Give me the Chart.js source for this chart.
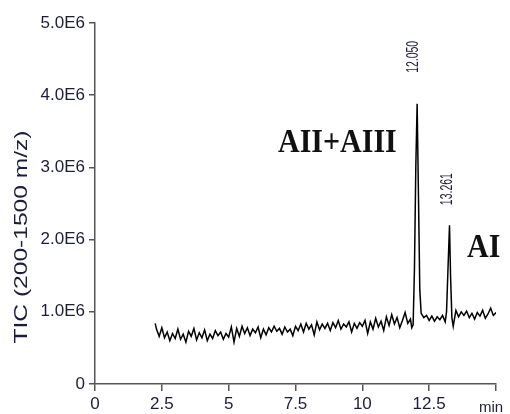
<!DOCTYPE html>
<html>
<head>
<meta charset="utf-8">
<script src="https://cdn.jsdelivr.net/npm/chart.js@4"></script>
<style>
  body{ margin:0; background:#fff; }
  #wrap{ width:510px; height:414px; }
</style>
</head>
<body>
<div id="wrap"><canvas id="graficoTIC" width="510" height="414"></canvas></div>
<script>
// ===================================
// DATOS (señal TIC en unidades de 1E6)
// ===================================
const tiempos = [
  2.25,2.3,2.4,2.5,2.6,2.7,2.8,2.9,3.0,3.1,3.2,3.3,3.4,3.5,3.6,3.7,3.8,3.9,
  4.0,4.1,4.2,4.3,4.4,4.5,4.6,4.7,4.8,4.9,5.0,5.1,5.2,5.3,5.4,5.5,5.6,5.7,5.8,5.9,
  6.0,6.1,6.2,6.3,6.4,6.5,6.6,6.7,6.8,6.9,7.0,7.1,7.2,7.3,7.4,7.5,7.6,7.7,7.8,7.9,
  8.0,8.1,8.2,8.3,8.4,8.5,8.6,8.7,8.8,8.9,9.0,9.1,9.2,9.3,9.4,9.5,9.6,9.7,9.8,9.9,
  10.0,10.1,10.2,10.3,10.4,10.5,10.6,10.7,10.8,10.9,11.0,11.1,11.2,11.3,11.4,11.5,11.6,11.7,11.8,
  11.85,11.9,11.95,12.0,12.05,12.1,12.15,12.2,12.3,12.4,12.5,12.6,12.7,12.8,12.9,13.0,13.1,
  13.15,13.2,13.261,13.3,13.35,13.4,13.5,13.6,13.7,13.8,13.9,14.0,14.1,14.2,14.3,14.4,14.5,
  14.6,14.7,14.8,14.9,15.0
];
const senal = [
  0.84,0.76,0.66,0.78,0.64,0.72,0.60,0.70,0.63,0.76,0.62,0.69,0.58,0.73,0.66,0.77,0.61,0.71,
  0.64,0.75,0.60,0.69,0.63,0.74,0.67,0.72,0.62,0.70,0.65,0.79,0.58,0.77,0.66,0.80,0.70,0.78,0.67,0.76,
  0.71,0.79,0.64,0.76,0.68,0.78,0.72,0.80,0.73,0.77,0.69,0.79,0.72,0.76,0.67,0.80,0.74,0.83,0.72,0.84,
  0.76,0.82,0.68,0.86,0.75,0.83,0.77,0.84,0.74,0.85,0.78,0.88,0.76,0.83,0.79,0.86,0.72,0.84,0.77,0.85,
  0.80,0.88,0.70,0.86,0.76,0.91,0.79,0.87,0.74,0.93,0.81,0.96,0.83,0.92,0.78,0.88,0.99,0.84,0.90,
  0.78,0.82,1.60,3.00,3.88,2.60,1.30,0.98,0.92,0.95,0.88,0.94,0.87,0.93,0.89,0.95,0.86,
  1.00,1.55,2.20,1.50,0.92,0.80,1.02,0.93,1.00,0.95,1.01,0.92,0.98,0.90,0.99,0.94,1.02,
  0.91,0.97,1.05,0.95,0.99
];
const ticksX = [0, 2.5, 5, 7.5, 10, 12.5, 15];
const etiquetasX = ['0', '2.5', '5', '7.5', '10', '12.5', ''];
const ticksY = [0, 1, 2, 3, 4, 5];
const etiquetasY = ['0', '1.0E6', '2.0E6', '3.0E6', '4.0E6', '5.0E6'];
const tiemposPicos = [12.05, 13.261];
const textosPicos = ['12.050', '13.261'];

const fuente = '"Liberation Sans", Arial, sans-serif';
const colorTexto = '#1c1d38';

// Textos extra: título del eje Y, etiquetas de picos, nombres de compuestos
const textosExtra = {
  id: 'textosExtra',
  afterDraw(chart){
    const ctx = chart.ctx;
    const sx = chart.scales.x, sy = chart.scales.y;
    ctx.save();
    ctx.fillStyle = colorTexto;

    // título eje Y (estirado a lo largo)
    ctx.save();
    ctx.font = '18px ' + fuente;
    ctx.translate(22, 237);
    ctx.rotate(-Math.PI / 2);
    const tit = 'TIC (200-1500 m/z)';
    const w = ctx.measureText(tit).width;
    ctx.scale(213 / w, 1);
    ctx.textAlign = 'center';
    ctx.textBaseline = 'middle';
    ctx.fillText(tit, 0, 0);
    ctx.restore();

    // etiquetas de tiempo de los picos (separación distinta para cada una)
    const separacion = [31, 20];
    const despX = [-4, -2];
    tiemposPicos.forEach((t, k) => {
      const i = tiempos.indexOf(t);
      const px = sx.getPixelForValue(t);
      const py = sy.getPixelForValue(senal[i]);
      ctx.save();
      ctx.font = '16px ' + fuente;
      ctx.translate(px + despX[k], py - separacion[k]);
      ctx.rotate(-Math.PI / 2);
      const ww = ctx.measureText(textosPicos[k]).width;
      ctx.scale(32 / ww, 1);
      ctx.textAlign = 'left';
      ctx.textBaseline = 'middle';
      ctx.fillText(textosPicos[k], 0, 0);
      ctx.restore();
    });

    // "min" al final del eje X
    ctx.font = '15px ' + fuente;
    ctx.textAlign = 'center';
    ctx.textBaseline = 'alphabetic';
    ctx.fillText('min', sx.getPixelForValue(15) - 5, 412);

    // nombres de compuestos
    ctx.fillStyle = '#111';
    ctx.font = 'bold 30px "Liberation Serif", "DejaVu Serif", serif';
    ctx.textAlign = 'left';
    ctx.save();
    ctx.translate(278, 152);
    ctx.scale(1, 1.1);
    ctx.fillText('AII+AIII', 0, 0);
    ctx.restore();
    ctx.save();
    ctx.translate(467, 257);
    ctx.scale(1, 1.1);
    ctx.fillText('AI', 0, 0);
    ctx.restore();

    ctx.restore();
  }
};

// ===================================
// GRÁFICO
// ===================================
const canvas = document.getElementById('graficoTIC');
const chart = new Chart(canvas.getContext('2d'), {
  type: 'line',
  data: {
    datasets: [{
      label: 'TIC',
      data: tiempos.map((t, i) => ({ x: t, y: senal[i] })),
      borderColor: '#000',
      borderWidth: 1.5,
      pointRadius: 0,
      tension: 0,
      fill: false
    }]
  },
  options: {
    responsive: false,
    animation: false,
    layout: { padding: { top: 23, right: 14, left: 0, bottom: 0 } },
    plugins: {
      legend: { display: false },
      tooltip: { enabled: false }
    },
    scales: {
      x: {
        type: 'linear',
        min: 0,
        max: 15,
        afterBuildTicks: s => { s.ticks = ticksX.map(v => ({ value: v })); },
        afterFit: s => { s.height = 30; },
        border: { display: true, color: '#555', width: 1.5 },
        grid: { drawOnChartArea: false, tickLength: 7, color: '#555', lineWidth: 1.5 },
        ticks: {
          padding: 3,
          maxRotation: 0,
          autoSkip: false,
          color: colorTexto,
          font: { family: fuente, size: 17 },
          callback: (v) => etiquetasX[ticksX.indexOf(v)]
        }
      },
      y: {
        min: 0,
        max: 5,
        afterBuildTicks: s => { s.ticks = ticksY.map(v => ({ value: v })); },
        afterFit: s => { s.width = 95; },
        border: { display: true, color: '#555', width: 1.5 },
        grid: { drawOnChartArea: false, tickLength: 6, color: '#555', lineWidth: 1.5 },
        ticks: {
          padding: 4,
          autoSkip: false,
          color: colorTexto,
          font: { family: fuente, size: 17 },
          callback: (v) => etiquetasY[ticksY.indexOf(v)]
        }
      }
    }
  },
  plugins: [textosExtra]
});
</script>
</body>
</html>
